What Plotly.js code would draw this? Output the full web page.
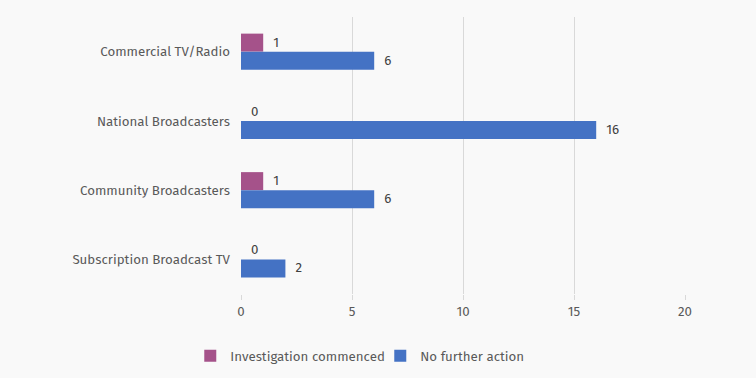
<!DOCTYPE html>
<html><head><meta charset="utf-8">
<script src="https://cdn.plot.ly/plotly-3.0.1.min.js"></script>
<style>html,body{margin:0;padding:0;background:#f9f9f9;}#chart{width:756px;height:378px;}</style>
</head><body><div id="chart"></div>
<script>
const categories = ["Commercial TV/Radio", "National Broadcasters", "Community Broadcasters", "Subscription Broadcast TV"];
const investigation = [1, 0, 1, 0];
const noFurther = [6, 16, 6, 2];
const tickVals = [0, 5, 10, 15, 20];

const font = {family: "Fira Sans, Open Sans, sans-serif", size: 13.3, color: "#595959"};
const pad = "\u00a0\u00a0";
const traces = [
  {type: "bar", orientation: "h", name: "Investigation commenced", y: categories, x: investigation,
   marker: {color: "#a5528a"}, text: investigation.map(v => pad + v), textposition: "outside",
   textfont: {family: font.family, size: 13.3, color: "#404040"}, cliponaxis: false, hoverinfo: "x+y"},
  {type: "bar", orientation: "h", name: "No further action", y: categories, x: noFurther,
   marker: {color: "#4472c4"}, text: noFurther.map(v => pad + v), textposition: "outside",
   textfont: {family: font.family, size: 13.3, color: "#404040"}, cliponaxis: false, hoverinfo: "x+y"}
];
const layout = {
  width: 756, height: 378,
  paper_bgcolor: "#f9f9f9", plot_bgcolor: "#f9f9f9",
  font: font,
  margin: {l: 241, r: 71, t: 17, b: 84, autoexpand: false},
  barmode: "group", bargap: 0.48, bargroupgap: 0,
  xaxis: {range: [0, 20], tickvals: tickVals, showgrid: true, gridcolor: "#d9d9d9", zeroline: false,
          ticks: "outside", ticklen: 5, tickcolor: "#d9d9d9", showline: false, tickfont: font, ticklabelstandoff: 0},
  yaxis: {autorange: "reversed", showgrid: false, zeroline: false, showline: false, ticks: "", tickfont: font, ticklabelstandoff: 10},
  legend: {orientation: "h", xref: "container", yref: "container", x: 0.503, xanchor: "center", y: 0.058, yanchor: "middle",
           font: font, traceorder: "normal", itemwidth: 30, entrywidth: 145, entrywidthmode: "pixels"},
  showlegend: true
};
Plotly.newPlot("chart", traces, layout, {displayModeBar: false, staticPlot: true});
</script></body></html>
